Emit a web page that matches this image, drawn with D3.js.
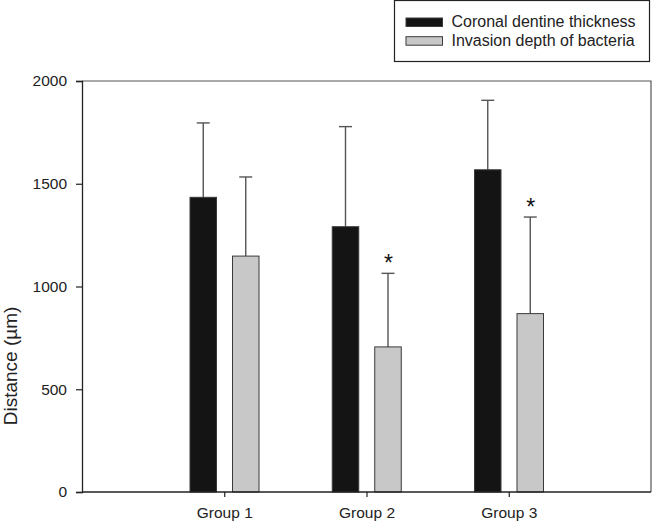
<!DOCTYPE html>
<html>
<head>
<meta charset="utf-8">
<script src="https://cdn.jsdelivr.net/npm/d3@7"></script>
<style>
  html, body { margin: 0; padding: 0; background: #fff; }
  svg { display: block; font-family: "Liberation Sans", Arial, sans-serif; }
</style>
</head>
<body>
<svg id="chart" width="653" height="524"></svg>
<script>
const groups = ["Group 1", "Group 2", "Group 3"];
const seriesNames = ["Coronal dentine thickness", "Invasion depth of bacteria"];
const dentineMean = [1434, 1291, 1568];
const dentineErr = [362, 487, 338];
const bacteriaMean = [1148, 706, 868];
const bacteriaErr = [385, 358, 470];
const significant = [false, true, true];
const yTicks = [0, 500, 1000, 1500, 2000];

(function () {
const svg = d3.select("#chart");
const pLeft = 82, pRight = 651, pTop = 81, pBottom = 492;

const x = d3.scaleLinear().domain([0, 4]).range([pLeft, pRight]);
const y = d3.scaleLinear().domain([0, 2000]).range([pBottom, pTop]);

const barW = 26.5;
const offsets = [-21, 21.5];
const fills = ["#141414", "#c8c8c8"];
const means = [dentineMean, bacteriaMean];
const errs = [dentineErr, bacteriaErr];

// frame (top and right)
svg.append("path")
  .attr("d", `M${pLeft},${pTop}H${pRight}V${pBottom}`)
  .attr("fill", "none").attr("stroke", "#555").attr("stroke-width", 1.2);

// bars + error bars
means.forEach((arr, s) => {
  const g = svg.append("g");
  arr.forEach((v, i) => {
    const cx = x(i + 1) + offsets[s];
    const eTop = y(v + errs[s][i]);
    g.append("line")
      .attr("x1", cx).attr("x2", cx)
      .attr("y1", y(v)).attr("y2", eTop)
      .attr("stroke", "#555").attr("stroke-width", 1.4);
    g.append("line")
      .attr("x1", cx - 6.5).attr("x2", cx + 6.5)
      .attr("y1", eTop).attr("y2", eTop)
      .attr("stroke", "#555").attr("stroke-width", 1.4);
    g.append("rect")
      .attr("x", cx - barW / 2).attr("y", y(v))
      .attr("width", barW).attr("height", y(0) - y(v))
      .attr("fill", fills[s]).attr("stroke", "#3a3a3a").attr("stroke-width", 1);
    if (s === 1 && significant[i]) {
      svg.append("text")
        .attr("x", cx + 0.5).attr("y", eTop - 2.5)
        .attr("text-anchor", "middle")
        .attr("font-size", 23).attr("fill", "#111")
        .text("*");
    }
  });
});

// y axis
const yAxis = d3.axisLeft(y).tickValues(yTicks).tickSize(6).tickPadding(9).tickFormat(d3.format("d"));
const yg = svg.append("g").attr("transform", `translate(${pLeft},0)`).call(yAxis);
yg.select(".domain").attr("stroke", "#222").attr("stroke-width", 1.3);
yg.selectAll(".tick line").attr("stroke", "#222").attr("stroke-width", 1.2);
yg.selectAll(".tick text").attr("font-size", 15.5).attr("fill", "#222")
  .attr("font-family", "Liberation Sans, Arial, sans-serif");

// x axis
const xAxis = d3.axisBottom(x).tickValues([1, 2, 3]).tickSize(5).tickPadding(10)
  .tickFormat((d) => groups[d - 1]);
const xg = svg.append("g").attr("transform", `translate(0,${pBottom})`).call(xAxis);
xg.select(".domain").attr("stroke", "#222").attr("stroke-width", 1.3).attr("d", `M${pLeft},0H${pRight}`);
xg.selectAll(".tick line").attr("stroke", "#222").attr("stroke-width", 1.2);
xg.selectAll(".tick text").attr("font-size", 15.5).attr("fill", "#222")
  .attr("font-family", "Liberation Sans, Arial, sans-serif");

// y title
svg.append("text")
  .attr("transform", "translate(17,366) rotate(-90)")
  .attr("text-anchor", "middle")
  .attr("font-size", 19).attr("fill", "#222")
  .text("Distance (\u00b5m)");

// legend
const lg = svg.append("g");
lg.append("rect").attr("x", 394.5).attr("y", 0.5).attr("width", 255).attr("height", 61)
  .attr("fill", "#fff").attr("stroke", "#222").attr("stroke-width", 1.2);
seriesNames.forEach((name, s) => {
  const yy = 18 + s * 18.7;
  lg.append("rect").attr("x", 406).attr("y", yy).attr("width", 36.5).attr("height", 8.5)
    .attr("fill", fills[s]).attr("stroke", "#3a3a3a").attr("stroke-width", 1);
  lg.append("text").attr("x", 451.5).attr("y", yy + 9)
    .attr("font-size", 16).attr("fill", "#222").text(name);
});
})();
</script>
</body>
</html>
